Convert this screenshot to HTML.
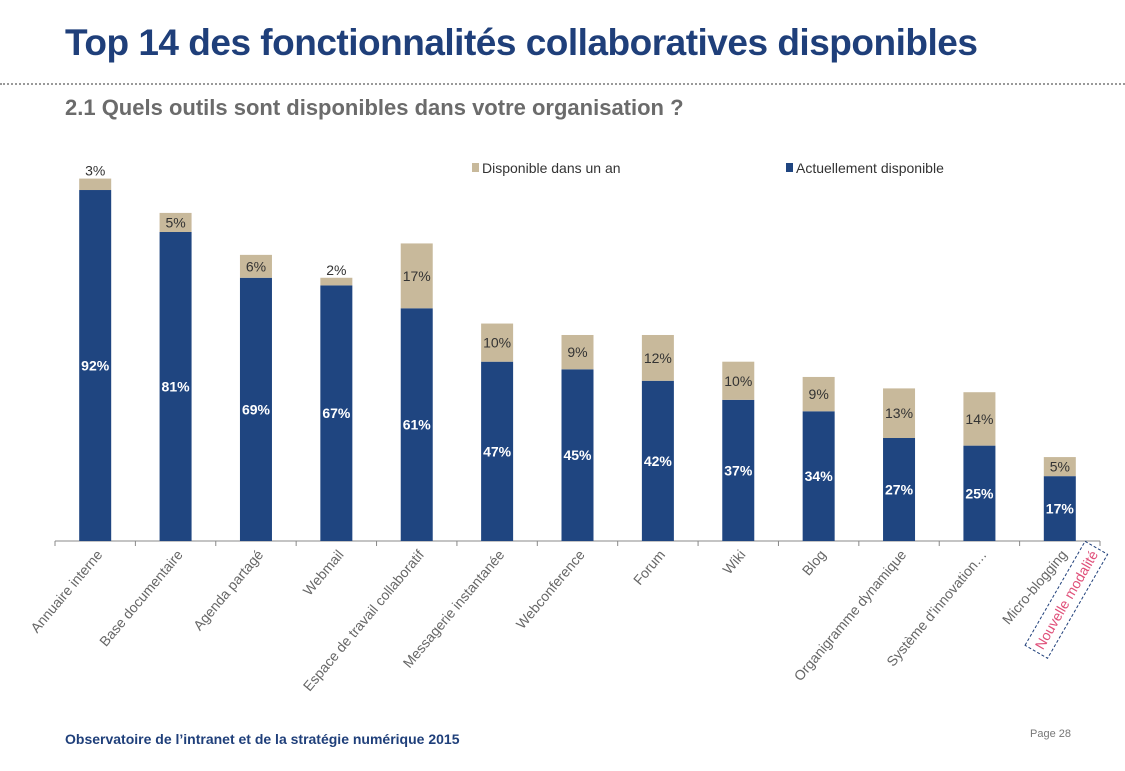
<!DOCTYPE html>
<html><head><meta charset="utf-8"><style>
body{margin:0;width:1125px;height:771px;background:#fff;overflow:hidden;font-family:"Liberation Sans",sans-serif}
#title{position:absolute;left:65px;top:22px;font-size:37px;font-weight:bold;color:#1f3f7a;letter-spacing:-0.5px}
#sep{position:absolute;left:0;top:83px;width:1125px;border-top:2px dotted #999}
#sub{position:absolute;left:65px;top:95px;font-size:22px;font-weight:bold;color:#6b6b6b}
#foot{position:absolute;left:65px;top:731px;font-size:14px;font-weight:bold;color:#1f3f7a}
#page{position:absolute;left:1030px;top:728px;font-size:11px;color:#777}
svg{position:absolute;left:0;top:0}
</style></head><body>
<div id="title">Top 14 des fonctionnalités collaboratives disponibles</div>
<div id="sep"></div>
<div id="sub">2.1 Quels outils sont disponibles dans votre organisation ?</div>
<div id="foot">Observatoire de l’intranet et de la stratégie numérique 2015</div>
<div id="page">Page 28</div>
<svg id="chart" width="1125" height="771"></svg>
<script>
const categories=["Annuaire interne","Base documentaire","Agenda partagé","Webmail","Espace de travail collaboratif","Messagerie instantanée","Webconference","Forum","Wiki","Blog","Organigramme dynamique","Système d'innovation…","Micro-blogging"];
const current=[92,81,69,67,61,47,45,42,37,34,27,25,17];
const nextYear=[3,5,6,2,17,10,9,12,10,9,13,14,5];
const NS="http://www.w3.org/2000/svg";
const svg=document.getElementById('chart');
const x0=55,x1=1100,base=541,pxPer=3.815,bw=32;
const step=(x1-x0)/categories.length;
const xc=i=>x0+step*(i+0.5);
const y=v=>base-v*pxPer;
function mk(t,a){const e=document.createElementNS(NS,t);for(const k in a)e.setAttribute(k,a[k]);svg.appendChild(e);return e;}
let ax=mk('line',{x1:x0,x2:x1,y1:base,y2:base,stroke:'#888','stroke-width':1});


for(let i=0;i<=categories.length;i++){
 let t=mk('line',{x1:x0+step*i,x2:x0+step*i,y1:base,y2:base+5,stroke:'#888'});
 
 
}
categories.forEach((c,i)=>{
 const cx=xc(i),c1=current[i],n=nextYear[i];
 let b=mk('rect',{x:cx-bw/2,y:y(c1),width:bw,height:c1*pxPer,fill:'#1f4580'});
 
 
 let t=mk('rect',{x:cx-bw/2,y:y(c1+n),width:bw,height:n*pxPer,fill:'#c8b99b'});
 
 
 let l=mk('text',{x:cx,y:(y(c1)+base)/2+5,'text-anchor':'middle','font-size':14,fill:'#fff','font-weight':'bold'});
 l.textContent=c1+'%';
 
 
 const ly=n<4?y(c1+n)-3:(y(c1+n)+y(c1))/2+5;
 let l2=mk('text',{x:cx,y:ly,'text-anchor':'middle','font-size':14,fill:'#333'});
 l2.textContent=n+'%';
 
 
 let cl=mk('text',{x:cx+8,y:base+14,'text-anchor':'end','font-size':14,fill:'#666',transform:`rotate(-50 ${cx+8} ${base+14})`});
 cl.textContent=c;
 
 
});
// new modality box
const bx=xc(12)+22,by=base+10;
let g=mk('g',{transform:`rotate(-60 ${bx} ${by})`});


const r=document.createElementNS(NS,'rect');
r.setAttribute('x',bx-110);r.setAttribute('y',by-2);r.setAttribute('width',120);r.setAttribute('height',26);
r.setAttribute('fill','none');r.setAttribute('stroke','#1f3f7a');r.setAttribute('stroke-dasharray','3,2');
g.appendChild(r);
const tt=document.createElementNS(NS,'text');
tt.setAttribute('x',bx-50);tt.setAttribute('y',by+16);tt.setAttribute('text-anchor','middle');
tt.setAttribute('font-size',14);tt.setAttribute('fill','#e0507a');tt.textContent='Nouvelle modalité';
g.appendChild(tt);
// legend
[['#c8b99b','Disponible dans un an',472],['#1f4580','Actuellement disponible',786]].forEach(([col,txt,lx])=>{
 let s=mk('rect',{x:lx,y:163,width:7,height:9,fill:col});
 
 
 let t=mk('text',{x:lx+10,y:173,'font-size':14,fill:'#333'});
 t.textContent=txt;
 
 
});
</script>
</body></html>
